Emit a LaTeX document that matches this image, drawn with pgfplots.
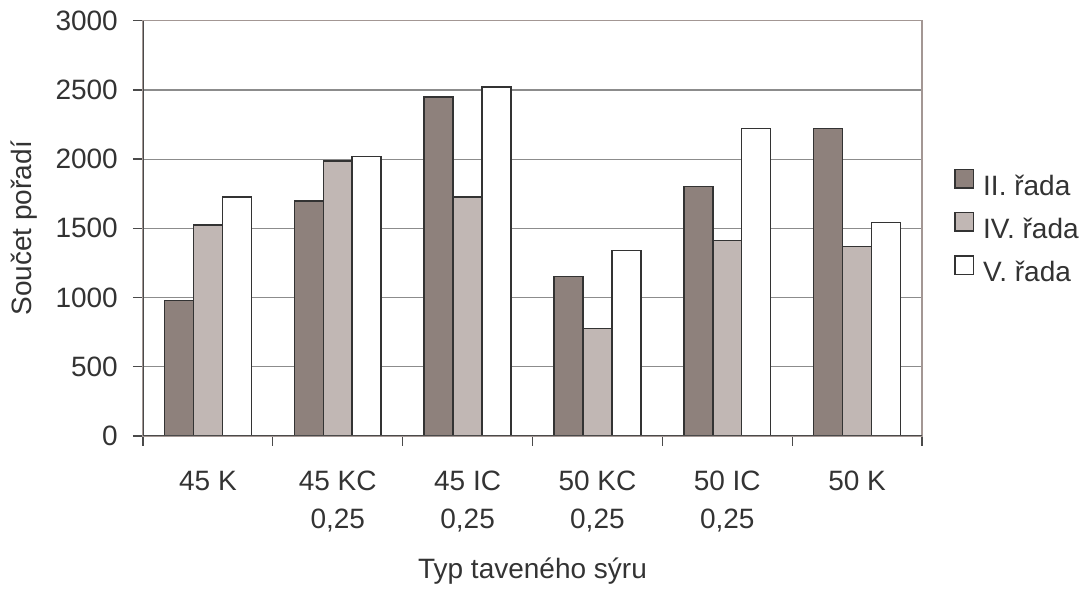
\documentclass[border=0pt]{standalone}
\usepackage{pgfplots}
\pgfplotsset{compat=1.18}
\usepackage{pgfplotstable}
\usepackage{fontspec}
\setmainfont{Liberation Sans}

\definecolor{serII}{HTML}{8E817C}
\definecolor{serIV}{HTML}{C1B7B4}
\definecolor{barborder}{HTML}{333333}
\definecolor{gridcol}{HTML}{8C8C8C}
\definecolor{boxcol}{HTML}{A39794}
\definecolor{axiscol}{HTML}{4A4A4A}
\definecolor{textcol}{HTML}{333333}

% Součet pořadí for each cheese type (0..5) and series
\pgfplotstableread{
idx II IV V
0 977 1524 1726
1 1698 1987 2018
2 2449 1726 2521
3 1151 775 1341
4 1801 1411 2220
5 2220 1368 1541
}\datatable

\newcommand{\chartfont}{\fontsize{28bp}{38bp}\selectfont}

\pgfplotsset{
  boxlegend/.style={legend image code/.code={%
    \draw[##1, line width=1.5bp] (0bp,0.5bp) rectangle (18.5bp,19bp);}},
}

\begin{document}
\begin{tikzpicture}[x=1bp,y=1bp]
\useasboundingbox (0,0) rectangle (1091,590);
\begin{axis}[
  at={(143bp,154bp)}, anchor=south west,
  scale only axis, width=779bp, height=415.3bp,
  ymin=0, ymax=3000, ytick={0,500,...,3000},
  xmin=-0.5, xmax=5.5,
  xtick={0,...,5},
  xticklabels={45 K, {45 KC\\0,25}, {45 IC\\0,25}, {50 KC\\0,25}, {50 IC\\0,25}, 50 K},
  minor xtick={-0.5,0.5,1.5,2.5,3.5,4.5,5.5},
  major x tick style={draw=none},
  minor x tick style={draw=axiscol, line width=1.3bp},
  ytick style={draw=axiscol, line width=1.3bp},
  tick align=outside,
  major tick length=10bp, minor tick length=10bp,
  xtick pos=bottom, ytick pos=left,
  ymajorgrids, grid style={gridcol, line width=1.2bp},
  axis line style={boxcol, line width=1.6bp},
  ybar, bar width=0.223,
  /pgf/number format/assume math mode=true,
  /pgf/number format/1000 sep={},
  tick label style={font=\chartfont, text=textcol},
  xticklabel style={align=center, anchor=north, inner sep=0pt, yshift=-25bp},
  yticklabel style={anchor=east, inner sep=0pt, xshift=-15bp},
  label style={font=\chartfont, text=textcol},
  xlabel={Typ taveného sýru},
  ylabel={Součet pořadí},
  xlabel style={at={(axis description cs:0.5,-0.342)}, anchor=base},
  ylabel style={at={(axis description cs:-0.1528,0.5)}, anchor=center},
  legend style={at={(axis description cs:1,0.5)}, anchor=west, xshift=32bp,
    draw=none, fill=none, font=\chartfont, text=textcol, inner sep=0pt,
    row sep=10.5bp,
    nodes={inner sep=0pt, text height=20bp, text depth=6bp},
    /tikz/every odd column/.append style={column sep=9bp}},
  legend cell align=left,
]
\addplot[boxlegend, fill=serII, draw=barborder, line width=1.5bp, bar shift=-0.223]
  table[x=idx, y=II] {\datatable};
\addplot[boxlegend, fill=serIV, draw=barborder, line width=1.5bp, bar shift=0]
  table[x=idx, y=IV] {\datatable};
\addplot[boxlegend, fill=white, draw=barborder, line width=1.5bp, bar shift=0.223]
  table[x=idx, y=V] {\datatable};
\legend{II. řada, IV. řada, V. řada}
\draw[axiscol, line width=1.3bp] (rel axis cs:0,0) -- (rel axis cs:0,1);
\draw[axiscol, line width=1.3bp] (rel axis cs:0,0) -- (rel axis cs:1,0);
\end{axis}
\end{tikzpicture}
\end{document}
